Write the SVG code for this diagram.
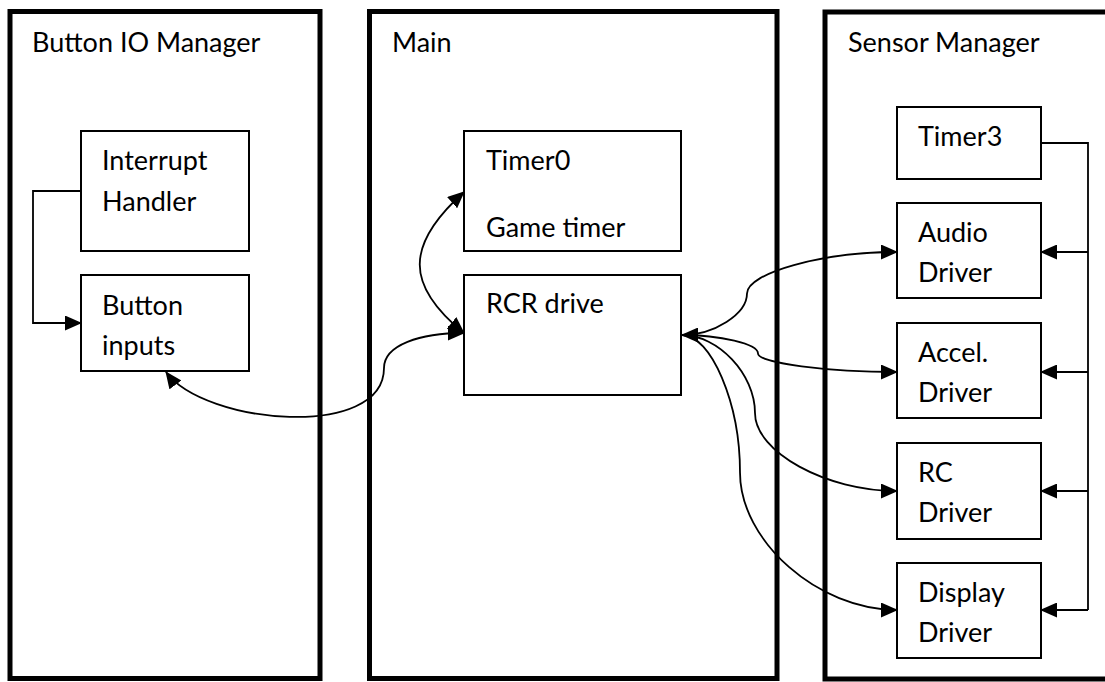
<svg xmlns="http://www.w3.org/2000/svg" width="1105" height="682" viewBox="0 0 1105 682">
<style>
.panel{fill:#fff;stroke:#000;stroke-width:5}
.box{fill:#fff;stroke:#000;stroke-width:2}
.t{font-family:Lato,"Liberation Sans",sans-serif;font-size:27px;fill:#000}
.c{fill:none;stroke:#000;stroke-width:1.8}
</style>
<defs>
<marker id="ah" markerUnits="userSpaceOnUse" markerWidth="17" markerHeight="15" refX="16" refY="7.5" orient="auto-start-reverse" viewBox="0 0 17 15">
<path d="M0,0 L17,7.5 L0,15 z" fill="#000"/>
</marker>
</defs>
<rect width="1105" height="682" fill="#fff"/>
<g id="panel-button">
<rect class="panel" x="10" y="11.5" width="310" height="667"/>
<text class="t" x="32" y="52">Button IO Manager</text>
</g>
<g id="panel-main">
<rect class="panel" x="369.5" y="11.5" width="407.5" height="667"/>
<text class="t" x="392" y="52">Main</text>
</g>
<g id="panel-sensor">
<rect class="panel" x="825" y="12" width="290" height="667"/>
<text class="t" x="848" y="52">Sensor Manager</text>
</g>
<g id="interrupt-handler">
<rect class="box" x="81" y="131" width="168" height="120"/>
<text class="t" x="102" y="170">Interrupt</text>
<text class="t" x="102" y="211">Handler</text>
</g>
<g id="button-inputs">
<rect class="box" x="81" y="275" width="168" height="96"/>
<text class="t" x="102" y="315">Button</text>
<text class="t" x="102" y="355">inputs</text>
</g>
<g id="timer0">
<rect class="box" x="464" y="131" width="217" height="120"/>
<text class="t" x="486" y="170">Timer0</text>
<text class="t" x="486" y="237">Game timer</text>
</g>
<g id="rcr-drive">
<rect class="box" x="464" y="275" width="217" height="120"/>
<text class="t" x="486" y="313">RCR drive</text>
</g>
<g id="timer3">
<rect class="box" x="897" y="107" width="144" height="72"/>
<text class="t" x="918" y="146">Timer3</text>
</g>
<g id="audio-driver">
<rect class="box" x="897" y="203" width="144" height="95"/>
<text class="t" x="918" y="242">Audio</text>
<text class="t" x="918" y="282">Driver</text>
</g>
<g id="accel-driver">
<rect class="box" x="897" y="323" width="144" height="95"/>
<text class="t" x="918" y="362">Accel.</text>
<text class="t" x="918" y="402">Driver</text>
</g>
<g id="rc-driver">
<rect class="box" x="897" y="443" width="144" height="96"/>
<text class="t" x="918" y="482">RC</text>
<text class="t" x="918" y="522">Driver</text>
</g>
<g id="display-driver">
<rect class="box" x="897" y="563" width="144" height="95"/>
<text class="t" x="918" y="602">Display</text>
<text class="t" x="918" y="642">Driver</text>
</g>
<g id="connectors">
<path class="c" d="M81,191 H33 V323 H81" marker-end="url(#ah)"/>
<path class="c" d="M464,192 C405,245 405,285 464,333" marker-start="url(#ah)" marker-end="url(#ah)"/>
<path class="c" d="M166,372 C205,425 384,440 384,368 C384,345 420,333 464,333" marker-start="url(#ah)" marker-end="url(#ah)"/>
<path class="c" d="M682,335 C714,335 747,314 747,293.5 C747,273 822,252 897,252" marker-start="url(#ah)" marker-end="url(#ah)"/>
<path class="c" d="M682,335 C720,335 758,344 758,353.5 C758,363 828,372 897,372" marker-end="url(#ah)"/>
<path class="c" d="M682,335 C718,335 755,374 755,413 C755,452 826,491 897,491" marker-end="url(#ah)"/>
<path class="c" d="M682,335 C711,335 740,403 740,472.5 C740,541 818,610 897,610" marker-end="url(#ah)"/>
<path class="c" d="M1041,143 H1088 V610"/>
<path class="c" d="M1088,252 H1041" marker-end="url(#ah)"/>
<path class="c" d="M1088,372 H1041" marker-end="url(#ah)"/>
<path class="c" d="M1088,491 H1041" marker-end="url(#ah)"/>
<path class="c" d="M1088,610 H1041" marker-end="url(#ah)"/>
</g>
</svg>
